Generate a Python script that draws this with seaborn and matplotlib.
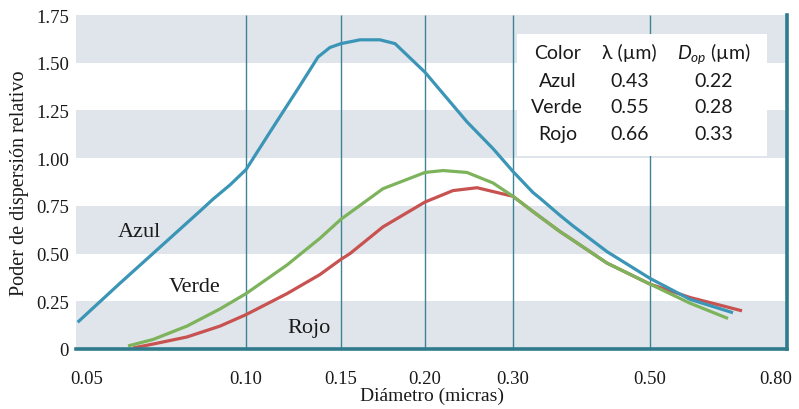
import numpy as np
import pandas as pd
import matplotlib
matplotlib.use("Agg")
import matplotlib.pyplot as plt
import seaborn as sns
from matplotlib.patches import Rectangle

# ---------------- data ----------------
azul_x = [0.048, 0.0577, 0.0687, 0.0818, 0.0866, 0.0933, 0.100, 0.1108, 0.1259, 0.1360, 0.1431,
          0.150, 0.1601, 0.1714, 0.1805, 0.200, 0.2427, 0.2736, 0.300, 0.3232, 0.3318,
          0.3575, 0.3752, 0.4260, 0.500, 0.5805, 0.6814]
azul_y = [0.14, 0.344, 0.533, 0.722, 0.785, 0.86, 0.94, 1.137, 1.38, 1.53, 1.58,
          1.60, 1.62, 1.62, 1.60, 1.45, 1.19, 1.05, 0.93, 0.82, 0.79,
          0.70, 0.645, 0.51, 0.37, 0.26, 0.19]

verde_x = [0.0598, 0.0667, 0.0773, 0.0893, 0.100, 0.1191, 0.1371, 0.150, 0.1732, 0.200,
           0.2173, 0.2427, 0.2736, 0.300, 0.3232, 0.3575, 0.3752, 0.4260, 0.500, 0.5805, 0.6689]
verde_y = [0.016, 0.05, 0.12, 0.21, 0.29, 0.44, 0.58, 0.68, 0.84, 0.925,
           0.935, 0.925, 0.87, 0.80, 0.72, 0.615, 0.57, 0.45, 0.34, 0.24, 0.16]

rojo_x = [0.0611, 0.0667, 0.0773, 0.0893, 0.100, 0.1191, 0.1371, 0.150, 0.1547, 0.1732,
          0.200, 0.2275, 0.2542, 0.2736, 0.300, 0.3232, 0.3575, 0.3752, 0.4260, 0.500,
          0.5805, 0.7048]
rojo_y = [0.005, 0.026, 0.063, 0.12, 0.18, 0.29, 0.39, 0.47, 0.50, 0.64,
          0.77, 0.83, 0.845, 0.825, 0.80, 0.72, 0.615, 0.57, 0.45, 0.34,
          0.27, 0.20]

x_ticks = [0.05, 0.10, 0.15, 0.20, 0.30, 0.50, 0.80]
x_tick_labels = ["0.05", "0.10", "0.15", "0.20", "0.30", "0.50", "0.80"]
grid_x = [0.10, 0.15, 0.20, 0.30, 0.50]
y_ticks = [0, 0.25, 0.50, 0.75, 1.00, 1.25, 1.50, 1.75]
y_tick_labels = ["0", "0.25", "0.50", "0.75", "1.00", "1.25", "1.50", "1.75"]
bands = [(0, 0.25), (0.50, 0.75), (1.00, 1.25), (1.50, 1.75)]

table_header = ["Color", "λ (µm)", "$D_{op}$ (µm)"]
table_color = ["Azul", "Verde", "Rojo"]
table_lambda = ["0.43", "0.55", "0.66"]
table_dop = ["0.22", "0.28", "0.33"]

# ---------------- style ----------------
sns.set_style("white")
plt.rcParams["font.family"] = ["Liberation Serif", "DejaVu Serif"]
plt.rcParams["mathtext.fontset"] = "custom"
plt.rcParams["mathtext.it"] = "Lato:italic"
plt.rcParams["mathtext.rm"] = "Lato"

BLUE = "#3a95b6"
GREEN = "#7db35b"
RED = "#c8524f"
TEAL = "#2f7b8c"
BAND = "#dfe5ea"
TXT = "#1a1a1a"

# non-uniform diameter axis (printed scale of the original figure)
tick_pos = np.array([87, 246, 341, 425, 513, 650, 776], dtype=float)
lt = np.log(np.array(x_ticks))
s0 = (tick_pos[1] - tick_pos[0]) / (lt[1] - lt[0])
s1 = (tick_pos[-1] - tick_pos[-2]) / (lt[-1] - lt[-2])
LT = np.concatenate([[lt[0] - 10], lt, [lt[-1] + 10]])
TP = np.concatenate([[tick_pos[0] - 10 * s0], tick_pos, [tick_pos[-1] + 10 * s1]])


def fwd(x):
    x = np.asarray(x, dtype=float)
    return np.interp(np.log(np.clip(x, 1e-9, None)), LT, TP)


def inv(p):
    p = np.asarray(p, dtype=float)
    return np.exp(np.interp(p, TP, LT))


fig = plt.figure(figsize=(7.99, 4.10), dpi=100)
ax = fig.add_axes([76 / 799, 1 - 350 / 410, (787 - 76) / 799, (350 - 16) / 410])

for lo, hi in bands:
    ax.axhspan(lo, hi, color=BAND, lw=0, zorder=0)
for gx in grid_x:
    ax.axvline(gx, color="#3f8296", lw=1.0, zorder=1)

df = pd.concat([
    pd.DataFrame({"d": azul_x, "p": azul_y, "c": "Azul"}),
    pd.DataFrame({"d": verde_x, "p": verde_y, "c": "Verde"}),
    pd.DataFrame({"d": rojo_x, "p": rojo_y, "c": "Rojo"}),
])
sns.lineplot(data=df, x="d", y="p", hue="c",
             palette={"Azul": BLUE, "Verde": GREEN, "Rojo": RED},
             hue_order=["Rojo", "Azul", "Verde"],
             lw=2.3, legend=False, ax=ax, zorder=4, estimator=None, sort=False)
for ln in ax.get_lines():
    ln.set_solid_joinstyle("round")
    ln.set_solid_capstyle("butt")

ax.set_xscale("function", functions=(fwd, inv))
ax.set_xlim(float(inv(76)), float(inv(787)))
ax.set_ylim(0, 1.75)

ax.set_xticks(x_ticks)
ax.set_xticklabels(x_tick_labels)
ax.set_yticks(y_ticks)
ax.set_yticklabels(y_tick_labels)
ax.minorticks_off()
ax.tick_params(axis="x", length=0, pad=15, labelsize=13.5, colors=TXT)
ax.tick_params(axis="y", length=0, pad=5, labelsize=13.5, colors=TXT)

ax.set_xlabel("Diámetro (micras)", fontsize=14, color=TXT, labelpad=0)
ax.set_ylabel("Poder de dispersión relativo", fontsize=14.5, color=TXT, labelpad=5)

for side in ["left", "top"]:
    ax.spines[side].set_visible(False)
for side in ["bottom", "right"]:
    ax.spines[side].set_visible(True)
    ax.spines[side].set_color(TEAL)
    ax.spines[side].set_linewidth(2.6)
    ax.spines[side].set_zorder(5)

# curve labels
ax.text(0.0627, 0.592, "Azul", fontsize=16, ha="center", va="baseline", color=TXT, zorder=6)
ax.text(0.0801, 0.304, "Verde", fontsize=16, ha="center", va="baseline", color=TXT, zorder=6)
ax.text(0.1309, 0.089, "Rojo", fontsize=16, ha="center", va="baseline", color=TXT, zorder=6)

# table box
ax.add_patch(Rectangle((0.620, 0.578), 0.352, 0.365, transform=ax.transAxes,
                       facecolor="white", edgecolor="none", zorder=2))
col_x = [0.677, 0.7785, 0.8966]
row_y = [0.889, 0.805, 0.725, 0.644]
tfont = ["Lato", "DejaVu Sans"]
for j, h in enumerate(table_header):
    ax.text(col_x[j], row_y[0], h, transform=ax.transAxes, ha="center", va="center",
            fontsize=14, family=tfont, color=TXT, zorder=6)
for i in range(3):
    for j, val in enumerate([table_color[i], table_lambda[i], table_dop[i]]):
        ax.text(col_x[j], row_y[i + 1], val, transform=ax.transAxes, ha="center",
                va="center", fontsize=14, family=tfont, color=TXT, zorder=6)

fig.savefig("out.png", dpi=100)
